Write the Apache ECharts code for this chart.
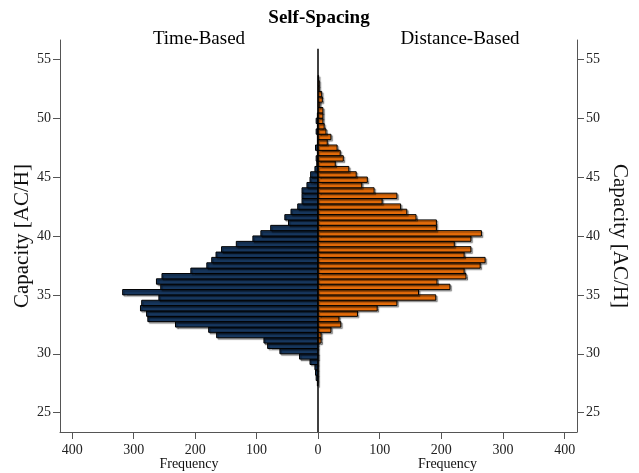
<!DOCTYPE html>
<html>
<head>
<meta charset="utf-8">
<script src="https://cdn.jsdelivr.net/npm/echarts@6/dist/echarts.min.js"></script>
<style>html,body{margin:0;padding:0;background:#fff;}#c{width:639px;height:473px;}</style>
</head>
<body>
<div id="c"></div>
<script>
// Histogram bins (lower edge of each bin, Capacity [AC/H]), bottom to top
const BIN_WIDTH = 0.4545;
const binLow = [27.27, 27.73, 28.18, 28.64, 29.09, 29.55, 30.00, 30.45, 30.91, 31.36,
  31.82, 32.27, 32.73, 33.18, 33.64, 34.09, 34.55, 35.00, 35.45, 35.91,
  36.36, 36.82, 37.27, 37.73, 38.18, 38.64, 39.09, 39.55, 40.00, 40.45,
  40.91, 41.36, 41.82, 42.27, 42.73, 43.18, 43.64, 44.09, 44.55, 45.00,
  45.45, 45.91, 46.36, 46.82, 47.27, 47.73, 48.18, 48.64, 49.09, 49.55,
  50.00, 50.45, 50.91, 51.36, 51.82, 52.27, 52.73, 53.18, 53.64];
// Frequencies, Time-Based (left)
const timeBased = [1, 3, 4, 5, 13, 30, 62, 82, 88, 165,
  178, 232, 277, 279, 289, 287, 259, 318, 256, 263,
  254, 207, 181, 173, 166, 157, 133, 106, 93, 77,
  48, 54, 44, 33, 26, 26, 26, 18, 13, 12,
  5, 2, 3, 1, 4, 1, 1, 3, 1, 3,
  1, 0, 0, 0, 0, 0, 0, 0, 0];
// Frequencies, Distance-Based (right)
const distanceBased = [0, 0, 0, 0, 0, 0, 0, 0, 5, 5,
  21, 37, 34, 64, 96, 128, 191, 163, 214, 193,
  240, 237, 263, 271, 237, 248, 221, 248, 265, 192,
  192, 159, 144, 134, 104, 128, 91, 71, 80, 62,
  50, 28, 41, 36, 31, 15, 21, 13, 10, 8,
  8, 8, 3, 7, 6, 2, 2, 1, 0];
const xTicks = [0, 100, 200, 300, 400];
const yTicks = [25, 30, 35, 40, 45, 50, 55];
const Y_MIN = 23.36, Y_MAX = 56.64;
const ZERO_LINE_TOP = 55.9;

const FONT = 'Liberation Serif';
const axisGray = '#555';

function histData(counts) {
  return binLow.map((lo, i) => [lo, lo + BIN_WIDTH, counts[i]]);
}
function makeRender(color) {
  return function (params, api) {
    const lo = api.value(0), hi = api.value(1), v = api.value(2);
    if (!v) return null;
    const p1 = api.coord([0, lo]);
    const p2 = api.coord([v, hi]);
    return {
      type: 'rect',
      shape: {
        x: Math.min(p1[0], p2[0]), y: Math.min(p1[1], p2[1]),
        width: Math.abs(p2[0] - p1[0]), height: Math.abs(p2[1] - p1[1])
      },
      style: {
        fill: color, stroke: '#000', lineWidth: 1,
        shadowColor: 'rgba(0,0,0,0.35)', shadowBlur: 1,
        shadowOffsetX: 1.5, shadowOffsetY: 1.5
      }
    };
  };
}
function xAxisCfg(idx, inverse) {
  return {
    gridIndex: idx, type: 'value', inverse: inverse, min: 0, max: 420,
    name: 'Frequency', nameLocation: 'middle', nameGap: 25, nameMoveOverlap: false,
    nameTextStyle: { fontFamily: FONT, fontSize: 14, color: '#111', verticalAlign: 'top' },
    splitLine: { show: false },
    axisLine: { show: true, onZero: false, lineStyle: { color: axisGray, width: 1 } },
    axisTick: { show: true, length: 7, customValues: xTicks, lineStyle: { color: axisGray } },
    axisLabel: {
      customValues: idx === 0 ? xTicks : xTicks.slice(1),
      fontFamily: FONT, fontSize: 14, color: '#222', margin: 11
    }
  };
}
function yAxisCfg(idx, pos) {
  return {
    gridIndex: idx, type: 'value', min: Y_MIN, max: Y_MAX, position: pos,
    name: 'Capacity [AC/H]', nameLocation: 'middle', nameGap: pos === 'left' ? 27 : 32,
    nameRotate: pos === 'left' ? 90 : -90, nameMoveOverlap: false,
    nameTextStyle: { fontFamily: FONT, fontSize: 21, color: '#111' },
    splitLine: { show: false },
    axisLine: { show: true, onZero: false, lineStyle: { color: axisGray, width: 1 } },
    axisTick: { show: true, length: 7, customValues: yTicks, lineStyle: { color: axisGray } },
    axisLabel: { customValues: yTicks, fontFamily: FONT, fontSize: 14, color: '#222', margin: 9 }
  };
}

const chart = echarts.init(document.getElementById('c'), null, { renderer: 'canvas' });
chart.setOption({
  animation: false,
  backgroundColor: '#fff',
  graphic: [
    { type: 'text', x: 319, y: 18, style: { text: 'Self-Spacing', align: 'center', verticalAlign: 'middle', font: 'bold 19px "Liberation Serif"', fill: '#000' } },
    { type: 'text', x: 199, y: 39, style: { text: 'Time-Based', align: 'center', verticalAlign: 'middle', font: '19px "Liberation Serif"', fill: '#000' } },
    { type: 'text', x: 460, y: 39, style: { text: 'Distance-Based', align: 'center', verticalAlign: 'middle', font: '19px "Liberation Serif"', fill: '#000' } }
  ],
  grid: [
    { left: 60, right: 321, top: 40, bottom: 41, containLabel: false, outerBoundsMode: 'none' },
    { left: 318, right: 62, top: 40, bottom: 41, containLabel: false, outerBoundsMode: 'none' }
  ],
  xAxis: [xAxisCfg(0, true), xAxisCfg(1, false)],
  yAxis: [yAxisCfg(0, 'left'), yAxisCfg(1, 'right')],
  series: [
    {
      name: 'Time-Based', type: 'custom', xAxisIndex: 0, yAxisIndex: 0,
      renderItem: makeRender('#17375E'), encode: { x: 2, y: [0, 1] },
      data: histData(timeBased), z: 2
    },
    {
      name: 'Distance-Based', type: 'custom', xAxisIndex: 1, yAxisIndex: 1,
      renderItem: makeRender('#E46C0A'), encode: { x: 2, y: [0, 1] },
      data: histData(distanceBased), z: 2,
      markLine: {
        silent: true, symbol: 'none', label: { show: false },
        lineStyle: { color: '#000', width: 1.5, type: 'solid' },
        data: [[{ coord: [0, Y_MIN] }, { coord: [0, ZERO_LINE_TOP] }]], z: 5
      }
    }
  ]
});
</script>
</body>
</html>
